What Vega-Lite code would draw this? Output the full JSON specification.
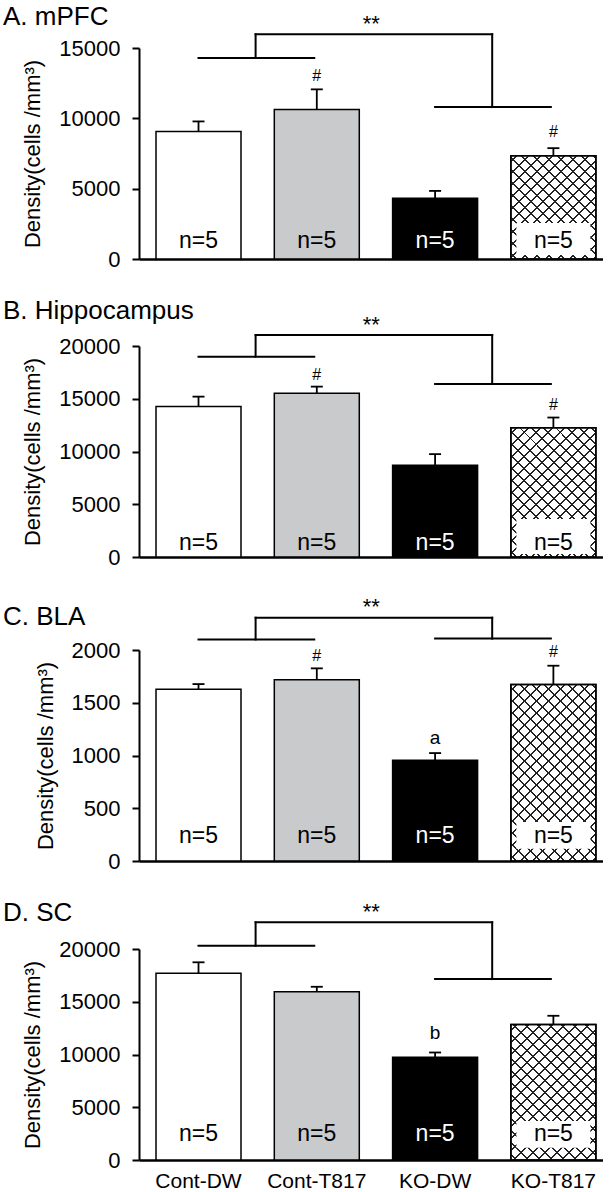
{
 "$schema": "https://vega.github.io/schema/vega-lite/v6.json",
 "background": "white",
 "padding": {"left": 3, "top": 3, "right": 0, "bottom": 0},
 "spacing": 27,
 "resolve": {"scale": {"x": "independent", "y": "independent", "color": "independent"}},
 "config": {
  "font": "Liberation Sans",
  "view": {"stroke": null},
  "axis": {"labelFontSize": 22, "titleFontSize": 22, "titleFontWeight": "normal", "labelColor": "black", "titleColor": "black", "domainColor": "black", "tickColor": "black", "domainWidth": 2, "tickWidth": 2, "tickSize": 7, "labelPadding": 12, "titlePadding": 14, "grid": false},
  "title": {"fontSize": 26, "fontWeight": "normal", "anchor": "start", "color": "black", "frame": "group", "dx": -136},
  "text": {"color": "black"}
 },
 "datasets": {
  "A": [
   {"group": "Cont-DW", "mean": 9070, "upper": 9780, "n": "n=5"},
   {"group": "Cont-T817", "mean": 10630, "upper": 12060, "n": "n=5"},
   {"group": "KO-DW", "mean": 4320, "upper": 4840, "n": "n=5"},
   {"group": "KO-T817", "mean": 7340, "upper": 7880, "n": "n=5"}
  ],
  "B": [
   {"group": "Cont-DW", "mean": 14260, "upper": 15200, "n": "n=5"},
   {"group": "Cont-T817", "mean": 15520, "upper": 16150, "n": "n=5"},
   {"group": "KO-DW", "mean": 8700, "upper": 9750, "n": "n=5"},
   {"group": "KO-T817", "mean": 12240, "upper": 13220, "n": "n=5"}
  ],
  "C": [
   {"group": "Cont-DW", "mean": 1627, "upper": 1677, "n": "n=5"},
   {"group": "Cont-T817", "mean": 1718, "upper": 1826, "n": "n=5"},
   {"group": "KO-DW", "mean": 954, "upper": 1023, "n": "n=5"},
   {"group": "KO-T817", "mean": 1674, "upper": 1851, "n": "n=5"}
  ],
  "D": [
   {"group": "Cont-DW", "mean": 17690, "upper": 18740, "n": "n=5"},
   {"group": "Cont-T817", "mean": 15950, "upper": 16420, "n": "n=5"},
   {"group": "KO-DW", "mean": 9750, "upper": 10190, "n": "n=5"},
   {"group": "KO-T817", "mean": 12850, "upper": 13670, "n": "n=5"}
  ]
 },
 "vconcat": [
  {
   "title": {"text": "A. mPFC", "offset": -17},
   "width": 464, "height": 211,
   "layer": [
    {"data": {"name": "A"},
     "mark": {"type": "bar", "stroke": "black", "strokeWidth": 1.5, "opacity": 1},
     "encoding": {
      "x": {"field": "group", "type": "nominal", "scale": {"domain": ["Cont-DW", "Cont-T817", "KO-DW", "KO-T817"], "paddingInner": 0.2815, "paddingOuter": 0.102, "align": 0.705}, "axis": {"labels": false, "ticks": false, "tickSize": 0, "title": null, "domainWidth": 2.5}},
      "y": {"field": "mean", "type": "quantitative", "scale": {"domain": [0, 15000], "nice": false}, "axis": {"values": [0, 5000, 10000, 15000], "format": "d", "title": "Density(cells /mm³)"}},
      "color": {"field": "group", "type": "nominal", "scale": {"domain": ["Cont-DW", "Cont-T817", "KO-DW", "KO-T817"], "range": ["#ffffff", "#c9cacc", "#000000", "#ffffff"]}, "legend": null}
     }},
    {"data": {"name": "A"}, "transform": [{"filter": "datum.group === 'KO-T817'"}],
     "mark": {"type": "bar", "opacity": 1, "strokeWidth": 0, "fill": {"gradient": "linear", "x1": 0, "y1": 0, "x2": 1.3687, "y2": 1.6626, "stops": [{"offset":0.0176,"color":"rgba(0,0,0,0)"},{"offset":0.0176,"color":"#222"},{"offset":0.024,"color":"#222"},{"offset":0.024,"color":"rgba(0,0,0,0)"},{"offset":0.0593,"color":"rgba(0,0,0,0)"},{"offset":0.0593,"color":"#222"},{"offset":0.0657,"color":"#222"},{"offset":0.0657,"color":"rgba(0,0,0,0)"},{"offset":0.101,"color":"rgba(0,0,0,0)"},{"offset":0.101,"color":"#222"},{"offset":0.1074,"color":"#222"},{"offset":0.1074,"color":"rgba(0,0,0,0)"},{"offset":0.1426,"color":"rgba(0,0,0,0)"},{"offset":0.1426,"color":"#222"},{"offset":0.149,"color":"#222"},{"offset":0.149,"color":"rgba(0,0,0,0)"},{"offset":0.1843,"color":"rgba(0,0,0,0)"},{"offset":0.1843,"color":"#222"},{"offset":0.1907,"color":"#222"},{"offset":0.1907,"color":"rgba(0,0,0,0)"},{"offset":0.226,"color":"rgba(0,0,0,0)"},{"offset":0.226,"color":"#222"},{"offset":0.2324,"color":"#222"},{"offset":0.2324,"color":"rgba(0,0,0,0)"},{"offset":0.2676,"color":"rgba(0,0,0,0)"},{"offset":0.2676,"color":"#222"},{"offset":0.274,"color":"#222"},{"offset":0.274,"color":"rgba(0,0,0,0)"},{"offset":0.3093,"color":"rgba(0,0,0,0)"},{"offset":0.3093,"color":"#222"},{"offset":0.3157,"color":"#222"},{"offset":0.3157,"color":"rgba(0,0,0,0)"},{"offset":0.351,"color":"rgba(0,0,0,0)"},{"offset":0.351,"color":"#222"},{"offset":0.3574,"color":"#222"},{"offset":0.3574,"color":"rgba(0,0,0,0)"},{"offset":0.3926,"color":"rgba(0,0,0,0)"},{"offset":0.3926,"color":"#222"},{"offset":0.399,"color":"#222"},{"offset":0.399,"color":"rgba(0,0,0,0)"},{"offset":0.4343,"color":"rgba(0,0,0,0)"},{"offset":0.4343,"color":"#222"},{"offset":0.4407,"color":"#222"},{"offset":0.4407,"color":"rgba(0,0,0,0)"},{"offset":0.476,"color":"rgba(0,0,0,0)"},{"offset":0.476,"color":"#222"},{"offset":0.4824,"color":"#222"},{"offset":0.4824,"color":"rgba(0,0,0,0)"},{"offset":0.5176,"color":"rgba(0,0,0,0)"},{"offset":0.5176,"color":"#222"},{"offset":0.524,"color":"#222"},{"offset":0.524,"color":"rgba(0,0,0,0)"},{"offset":0.5593,"color":"rgba(0,0,0,0)"},{"offset":0.5593,"color":"#222"},{"offset":0.5657,"color":"#222"},{"offset":0.5657,"color":"rgba(0,0,0,0)"},{"offset":0.601,"color":"rgba(0,0,0,0)"},{"offset":0.601,"color":"#222"},{"offset":0.6074,"color":"#222"},{"offset":0.6074,"color":"rgba(0,0,0,0)"},{"offset":0.6426,"color":"rgba(0,0,0,0)"},{"offset":0.6426,"color":"#222"},{"offset":0.649,"color":"#222"},{"offset":0.649,"color":"rgba(0,0,0,0)"},{"offset":0.6843,"color":"rgba(0,0,0,0)"},{"offset":0.6843,"color":"#222"},{"offset":0.6907,"color":"#222"},{"offset":0.6907,"color":"rgba(0,0,0,0)"},{"offset":0.726,"color":"rgba(0,0,0,0)"},{"offset":0.726,"color":"#222"},{"offset":0.7324,"color":"#222"},{"offset":0.7324,"color":"rgba(0,0,0,0)"},{"offset":0.7676,"color":"rgba(0,0,0,0)"},{"offset":0.7676,"color":"#222"},{"offset":0.774,"color":"#222"},{"offset":0.774,"color":"rgba(0,0,0,0)"},{"offset":0.8093,"color":"rgba(0,0,0,0)"},{"offset":0.8093,"color":"#222"},{"offset":0.8157,"color":"#222"},{"offset":0.8157,"color":"rgba(0,0,0,0)"},{"offset":0.851,"color":"rgba(0,0,0,0)"},{"offset":0.851,"color":"#222"},{"offset":0.8574,"color":"#222"},{"offset":0.8574,"color":"rgba(0,0,0,0)"},{"offset":0.8926,"color":"rgba(0,0,0,0)"},{"offset":0.8926,"color":"#222"},{"offset":0.899,"color":"#222"},{"offset":0.899,"color":"rgba(0,0,0,0)"},{"offset":0.9343,"color":"rgba(0,0,0,0)"},{"offset":0.9343,"color":"#222"},{"offset":0.9407,"color":"#222"},{"offset":0.9407,"color":"rgba(0,0,0,0)"},{"offset":0.976,"color":"rgba(0,0,0,0)"},{"offset":0.976,"color":"#222"},{"offset":0.9824,"color":"#222"},{"offset":0.9824,"color":"rgba(0,0,0,0)"}]}},
     "encoding": {"x": {"field": "group", "type": "nominal"}, "y": {"field": "mean", "type": "quantitative"}}},
    {"data": {"name": "A"}, "transform": [{"filter": "datum.group === 'KO-T817'"}],
     "mark": {"type": "bar", "opacity": 1, "stroke": "black", "strokeWidth": 1.5, "fill": {"gradient": "linear", "x1": 0, "y1": 1, "x2": 1.3687, "y2": -0.6626, "stops": [{"offset":0.0176,"color":"rgba(0,0,0,0)"},{"offset":0.0176,"color":"#222"},{"offset":0.024,"color":"#222"},{"offset":0.024,"color":"rgba(0,0,0,0)"},{"offset":0.0593,"color":"rgba(0,0,0,0)"},{"offset":0.0593,"color":"#222"},{"offset":0.0657,"color":"#222"},{"offset":0.0657,"color":"rgba(0,0,0,0)"},{"offset":0.101,"color":"rgba(0,0,0,0)"},{"offset":0.101,"color":"#222"},{"offset":0.1074,"color":"#222"},{"offset":0.1074,"color":"rgba(0,0,0,0)"},{"offset":0.1426,"color":"rgba(0,0,0,0)"},{"offset":0.1426,"color":"#222"},{"offset":0.149,"color":"#222"},{"offset":0.149,"color":"rgba(0,0,0,0)"},{"offset":0.1843,"color":"rgba(0,0,0,0)"},{"offset":0.1843,"color":"#222"},{"offset":0.1907,"color":"#222"},{"offset":0.1907,"color":"rgba(0,0,0,0)"},{"offset":0.226,"color":"rgba(0,0,0,0)"},{"offset":0.226,"color":"#222"},{"offset":0.2324,"color":"#222"},{"offset":0.2324,"color":"rgba(0,0,0,0)"},{"offset":0.2676,"color":"rgba(0,0,0,0)"},{"offset":0.2676,"color":"#222"},{"offset":0.274,"color":"#222"},{"offset":0.274,"color":"rgba(0,0,0,0)"},{"offset":0.3093,"color":"rgba(0,0,0,0)"},{"offset":0.3093,"color":"#222"},{"offset":0.3157,"color":"#222"},{"offset":0.3157,"color":"rgba(0,0,0,0)"},{"offset":0.351,"color":"rgba(0,0,0,0)"},{"offset":0.351,"color":"#222"},{"offset":0.3574,"color":"#222"},{"offset":0.3574,"color":"rgba(0,0,0,0)"},{"offset":0.3926,"color":"rgba(0,0,0,0)"},{"offset":0.3926,"color":"#222"},{"offset":0.399,"color":"#222"},{"offset":0.399,"color":"rgba(0,0,0,0)"},{"offset":0.4343,"color":"rgba(0,0,0,0)"},{"offset":0.4343,"color":"#222"},{"offset":0.4407,"color":"#222"},{"offset":0.4407,"color":"rgba(0,0,0,0)"},{"offset":0.476,"color":"rgba(0,0,0,0)"},{"offset":0.476,"color":"#222"},{"offset":0.4824,"color":"#222"},{"offset":0.4824,"color":"rgba(0,0,0,0)"},{"offset":0.5176,"color":"rgba(0,0,0,0)"},{"offset":0.5176,"color":"#222"},{"offset":0.524,"color":"#222"},{"offset":0.524,"color":"rgba(0,0,0,0)"},{"offset":0.5593,"color":"rgba(0,0,0,0)"},{"offset":0.5593,"color":"#222"},{"offset":0.5657,"color":"#222"},{"offset":0.5657,"color":"rgba(0,0,0,0)"},{"offset":0.601,"color":"rgba(0,0,0,0)"},{"offset":0.601,"color":"#222"},{"offset":0.6074,"color":"#222"},{"offset":0.6074,"color":"rgba(0,0,0,0)"},{"offset":0.6426,"color":"rgba(0,0,0,0)"},{"offset":0.6426,"color":"#222"},{"offset":0.649,"color":"#222"},{"offset":0.649,"color":"rgba(0,0,0,0)"},{"offset":0.6843,"color":"rgba(0,0,0,0)"},{"offset":0.6843,"color":"#222"},{"offset":0.6907,"color":"#222"},{"offset":0.6907,"color":"rgba(0,0,0,0)"},{"offset":0.726,"color":"rgba(0,0,0,0)"},{"offset":0.726,"color":"#222"},{"offset":0.7324,"color":"#222"},{"offset":0.7324,"color":"rgba(0,0,0,0)"},{"offset":0.7676,"color":"rgba(0,0,0,0)"},{"offset":0.7676,"color":"#222"},{"offset":0.774,"color":"#222"},{"offset":0.774,"color":"rgba(0,0,0,0)"},{"offset":0.8093,"color":"rgba(0,0,0,0)"},{"offset":0.8093,"color":"#222"},{"offset":0.8157,"color":"#222"},{"offset":0.8157,"color":"rgba(0,0,0,0)"},{"offset":0.851,"color":"rgba(0,0,0,0)"},{"offset":0.851,"color":"#222"},{"offset":0.8574,"color":"#222"},{"offset":0.8574,"color":"rgba(0,0,0,0)"},{"offset":0.8926,"color":"rgba(0,0,0,0)"},{"offset":0.8926,"color":"#222"},{"offset":0.899,"color":"#222"},{"offset":0.899,"color":"rgba(0,0,0,0)"},{"offset":0.9343,"color":"rgba(0,0,0,0)"},{"offset":0.9343,"color":"#222"},{"offset":0.9407,"color":"#222"},{"offset":0.9407,"color":"rgba(0,0,0,0)"},{"offset":0.976,"color":"rgba(0,0,0,0)"},{"offset":0.976,"color":"#222"},{"offset":0.9824,"color":"#222"},{"offset":0.9824,"color":"rgba(0,0,0,0)"}]}},
     "encoding": {"x": {"field": "group", "type": "nominal"}, "y": {"field": "mean", "type": "quantitative"}}},
    {"data": {"name": "A"}, "transform": [{"filter": "datum.group === 'KO-T817'"}],
     "mark": {"type": "point", "shape": "M-1,-0.973L1,-0.973L1,-0.108L-1,-0.108Z", "size": 5476, "filled": true, "color": "white", "opacity": 1, "strokeWidth": 0},
     "encoding": {"x": {"field": "group", "type": "nominal"}, "y": {"datum": 0, "type": "quantitative"}}},
    {"data": {"name": "A"},
     "mark": {"type": "rule", "color": "black", "strokeWidth": 1.8},
     "encoding": {"x": {"field": "group", "type": "nominal"}, "y": {"field": "mean", "type": "quantitative"}, "y2": {"field": "upper"}}},
    {"data": {"name": "A"},
     "mark": {"type": "tick", "color": "black", "thickness": 1.8, "size": 12, "orient": "horizontal", "opacity": 1},
     "encoding": {"x": {"field": "group", "type": "nominal"}, "y": {"field": "upper", "type": "quantitative"}}},
    {"data": {"name": "A"},
     "mark": {"type": "text", "fontSize": 23, "baseline": "alphabetic", "dy": -11},
     "encoding": {"x": {"field": "group", "type": "nominal"}, "y": {"datum": 0, "type": "quantitative"}, "text": {"field": "n"}, "color": {"condition": {"test": "datum.group === 'KO-DW'", "value": "white"}, "value": "black"}}},
    {"data": {"values": [{"group": "Cont-T817", "label": "#", "y": 12980}, {"group": "KO-T817", "label": "#", "y": 9020}]},
     "mark": {"type": "text", "fontSize": 16, "baseline": "middle", "color": "black"},
     "encoding": {"x": {"field": "group", "type": "nominal"}, "y": {"field": "y", "type": "quantitative"}, "text": {"field": "label"}}},
    {"data": {"values": [{"group": "KO-DW", "label": "**", "y": 16740}]},
     "mark": {"type": "text", "fontSize": 22, "baseline": "middle", "color": "black"},
     "encoding": {"x": {"field": "group", "type": "nominal", "bandPosition": -0.25}, "y": {"field": "y", "type": "quantitative"}, "text": {"field": "label"}}},
    {"data": {"values": [{"g1": "Cont-DW", "g2": "Cont-T817", "y": 14290}, {"g1": "KO-DW", "g2": "KO-T817", "y": 10800}]},
     "mark": {"type": "rule", "color": "black", "strokeWidth": 2, "strokeCap": "square"},
     "encoding": {"x": {"field": "g1", "type": "nominal", "bandPosition": 0.5}, "x2": {"field": "g2", "bandPosition": 0.47}, "y": {"field": "y", "type": "quantitative"}}},
    {"data": {"values": [{"g1": "Cont-T817", "g2": "KO-T817", "y": 15980}]},
     "mark": {"type": "rule", "color": "black", "strokeWidth": 2, "strokeCap": "square"},
     "encoding": {"x": {"field": "g1", "type": "nominal", "bandPosition": -0.22}, "x2": {"field": "g2", "bandPosition": -0.22}, "y": {"field": "y", "type": "quantitative"}}},
    {"data": {"values": [{"g": "Cont-T817", "y": 14290, "y2": 15980}, {"g": "KO-T817", "y": 10800, "y2": 15980}]},
     "mark": {"type": "rule", "color": "black", "strokeWidth": 2, "strokeCap": "square"},
     "encoding": {"x": {"field": "g", "type": "nominal", "bandPosition": -0.22}, "y": {"field": "y", "type": "quantitative"}, "y2": {"field": "y2"}}}
   ]
  },
  {
   "title": {"text": "B. Hippocampus", "offset": -10},
   "width": 464, "height": 211,
   "layer": [
    {"data": {"name": "B"},
     "mark": {"type": "bar", "stroke": "black", "strokeWidth": 1.5, "opacity": 1},
     "encoding": {
      "x": {"field": "group", "type": "nominal", "scale": {"domain": ["Cont-DW", "Cont-T817", "KO-DW", "KO-T817"], "paddingInner": 0.2815, "paddingOuter": 0.102, "align": 0.705}, "axis": {"labels": false, "ticks": false, "tickSize": 0, "title": null, "domainWidth": 2.5}},
      "y": {"field": "mean", "type": "quantitative", "scale": {"domain": [0, 20000], "nice": false}, "axis": {"values": [0, 5000, 10000, 15000, 20000], "format": "d", "title": "Density(cells /mm³)"}},
      "color": {"field": "group", "type": "nominal", "scale": {"domain": ["Cont-DW", "Cont-T817", "KO-DW", "KO-T817"], "range": ["#ffffff", "#c9cacc", "#000000", "#ffffff"]}, "legend": null}
     }},
    {"data": {"name": "B"}, "transform": [{"filter": "datum.group === 'KO-T817'"}],
     "mark": {"type": "bar", "opacity": 1, "strokeWidth": 0, "fill": {"gradient": "linear", "x1": 0, "y1": 0, "x2": 1.0246, "y2": 1.5562, "stops": [{"offset":0.0176,"color":"rgba(0,0,0,0)"},{"offset":0.0176,"color":"#222"},{"offset":0.024,"color":"#222"},{"offset":0.024,"color":"rgba(0,0,0,0)"},{"offset":0.0593,"color":"rgba(0,0,0,0)"},{"offset":0.0593,"color":"#222"},{"offset":0.0657,"color":"#222"},{"offset":0.0657,"color":"rgba(0,0,0,0)"},{"offset":0.101,"color":"rgba(0,0,0,0)"},{"offset":0.101,"color":"#222"},{"offset":0.1074,"color":"#222"},{"offset":0.1074,"color":"rgba(0,0,0,0)"},{"offset":0.1426,"color":"rgba(0,0,0,0)"},{"offset":0.1426,"color":"#222"},{"offset":0.149,"color":"#222"},{"offset":0.149,"color":"rgba(0,0,0,0)"},{"offset":0.1843,"color":"rgba(0,0,0,0)"},{"offset":0.1843,"color":"#222"},{"offset":0.1907,"color":"#222"},{"offset":0.1907,"color":"rgba(0,0,0,0)"},{"offset":0.226,"color":"rgba(0,0,0,0)"},{"offset":0.226,"color":"#222"},{"offset":0.2324,"color":"#222"},{"offset":0.2324,"color":"rgba(0,0,0,0)"},{"offset":0.2676,"color":"rgba(0,0,0,0)"},{"offset":0.2676,"color":"#222"},{"offset":0.274,"color":"#222"},{"offset":0.274,"color":"rgba(0,0,0,0)"},{"offset":0.3093,"color":"rgba(0,0,0,0)"},{"offset":0.3093,"color":"#222"},{"offset":0.3157,"color":"#222"},{"offset":0.3157,"color":"rgba(0,0,0,0)"},{"offset":0.351,"color":"rgba(0,0,0,0)"},{"offset":0.351,"color":"#222"},{"offset":0.3574,"color":"#222"},{"offset":0.3574,"color":"rgba(0,0,0,0)"},{"offset":0.3926,"color":"rgba(0,0,0,0)"},{"offset":0.3926,"color":"#222"},{"offset":0.399,"color":"#222"},{"offset":0.399,"color":"rgba(0,0,0,0)"},{"offset":0.4343,"color":"rgba(0,0,0,0)"},{"offset":0.4343,"color":"#222"},{"offset":0.4407,"color":"#222"},{"offset":0.4407,"color":"rgba(0,0,0,0)"},{"offset":0.476,"color":"rgba(0,0,0,0)"},{"offset":0.476,"color":"#222"},{"offset":0.4824,"color":"#222"},{"offset":0.4824,"color":"rgba(0,0,0,0)"},{"offset":0.5176,"color":"rgba(0,0,0,0)"},{"offset":0.5176,"color":"#222"},{"offset":0.524,"color":"#222"},{"offset":0.524,"color":"rgba(0,0,0,0)"},{"offset":0.5593,"color":"rgba(0,0,0,0)"},{"offset":0.5593,"color":"#222"},{"offset":0.5657,"color":"#222"},{"offset":0.5657,"color":"rgba(0,0,0,0)"},{"offset":0.601,"color":"rgba(0,0,0,0)"},{"offset":0.601,"color":"#222"},{"offset":0.6074,"color":"#222"},{"offset":0.6074,"color":"rgba(0,0,0,0)"},{"offset":0.6426,"color":"rgba(0,0,0,0)"},{"offset":0.6426,"color":"#222"},{"offset":0.649,"color":"#222"},{"offset":0.649,"color":"rgba(0,0,0,0)"},{"offset":0.6843,"color":"rgba(0,0,0,0)"},{"offset":0.6843,"color":"#222"},{"offset":0.6907,"color":"#222"},{"offset":0.6907,"color":"rgba(0,0,0,0)"},{"offset":0.726,"color":"rgba(0,0,0,0)"},{"offset":0.726,"color":"#222"},{"offset":0.7324,"color":"#222"},{"offset":0.7324,"color":"rgba(0,0,0,0)"},{"offset":0.7676,"color":"rgba(0,0,0,0)"},{"offset":0.7676,"color":"#222"},{"offset":0.774,"color":"#222"},{"offset":0.774,"color":"rgba(0,0,0,0)"},{"offset":0.8093,"color":"rgba(0,0,0,0)"},{"offset":0.8093,"color":"#222"},{"offset":0.8157,"color":"#222"},{"offset":0.8157,"color":"rgba(0,0,0,0)"},{"offset":0.851,"color":"rgba(0,0,0,0)"},{"offset":0.851,"color":"#222"},{"offset":0.8574,"color":"#222"},{"offset":0.8574,"color":"rgba(0,0,0,0)"},{"offset":0.8926,"color":"rgba(0,0,0,0)"},{"offset":0.8926,"color":"#222"},{"offset":0.899,"color":"#222"},{"offset":0.899,"color":"rgba(0,0,0,0)"},{"offset":0.9343,"color":"rgba(0,0,0,0)"},{"offset":0.9343,"color":"#222"},{"offset":0.9407,"color":"#222"},{"offset":0.9407,"color":"rgba(0,0,0,0)"},{"offset":0.976,"color":"rgba(0,0,0,0)"},{"offset":0.976,"color":"#222"},{"offset":0.9824,"color":"#222"},{"offset":0.9824,"color":"rgba(0,0,0,0)"}]}},
     "encoding": {"x": {"field": "group", "type": "nominal"}, "y": {"field": "mean", "type": "quantitative"}}},
    {"data": {"name": "B"}, "transform": [{"filter": "datum.group === 'KO-T817'"}],
     "mark": {"type": "bar", "opacity": 1, "stroke": "black", "strokeWidth": 1.5, "fill": {"gradient": "linear", "x1": 0, "y1": 1, "x2": 1.0246, "y2": -0.5562, "stops": [{"offset":0.0176,"color":"rgba(0,0,0,0)"},{"offset":0.0176,"color":"#222"},{"offset":0.024,"color":"#222"},{"offset":0.024,"color":"rgba(0,0,0,0)"},{"offset":0.0593,"color":"rgba(0,0,0,0)"},{"offset":0.0593,"color":"#222"},{"offset":0.0657,"color":"#222"},{"offset":0.0657,"color":"rgba(0,0,0,0)"},{"offset":0.101,"color":"rgba(0,0,0,0)"},{"offset":0.101,"color":"#222"},{"offset":0.1074,"color":"#222"},{"offset":0.1074,"color":"rgba(0,0,0,0)"},{"offset":0.1426,"color":"rgba(0,0,0,0)"},{"offset":0.1426,"color":"#222"},{"offset":0.149,"color":"#222"},{"offset":0.149,"color":"rgba(0,0,0,0)"},{"offset":0.1843,"color":"rgba(0,0,0,0)"},{"offset":0.1843,"color":"#222"},{"offset":0.1907,"color":"#222"},{"offset":0.1907,"color":"rgba(0,0,0,0)"},{"offset":0.226,"color":"rgba(0,0,0,0)"},{"offset":0.226,"color":"#222"},{"offset":0.2324,"color":"#222"},{"offset":0.2324,"color":"rgba(0,0,0,0)"},{"offset":0.2676,"color":"rgba(0,0,0,0)"},{"offset":0.2676,"color":"#222"},{"offset":0.274,"color":"#222"},{"offset":0.274,"color":"rgba(0,0,0,0)"},{"offset":0.3093,"color":"rgba(0,0,0,0)"},{"offset":0.3093,"color":"#222"},{"offset":0.3157,"color":"#222"},{"offset":0.3157,"color":"rgba(0,0,0,0)"},{"offset":0.351,"color":"rgba(0,0,0,0)"},{"offset":0.351,"color":"#222"},{"offset":0.3574,"color":"#222"},{"offset":0.3574,"color":"rgba(0,0,0,0)"},{"offset":0.3926,"color":"rgba(0,0,0,0)"},{"offset":0.3926,"color":"#222"},{"offset":0.399,"color":"#222"},{"offset":0.399,"color":"rgba(0,0,0,0)"},{"offset":0.4343,"color":"rgba(0,0,0,0)"},{"offset":0.4343,"color":"#222"},{"offset":0.4407,"color":"#222"},{"offset":0.4407,"color":"rgba(0,0,0,0)"},{"offset":0.476,"color":"rgba(0,0,0,0)"},{"offset":0.476,"color":"#222"},{"offset":0.4824,"color":"#222"},{"offset":0.4824,"color":"rgba(0,0,0,0)"},{"offset":0.5176,"color":"rgba(0,0,0,0)"},{"offset":0.5176,"color":"#222"},{"offset":0.524,"color":"#222"},{"offset":0.524,"color":"rgba(0,0,0,0)"},{"offset":0.5593,"color":"rgba(0,0,0,0)"},{"offset":0.5593,"color":"#222"},{"offset":0.5657,"color":"#222"},{"offset":0.5657,"color":"rgba(0,0,0,0)"},{"offset":0.601,"color":"rgba(0,0,0,0)"},{"offset":0.601,"color":"#222"},{"offset":0.6074,"color":"#222"},{"offset":0.6074,"color":"rgba(0,0,0,0)"},{"offset":0.6426,"color":"rgba(0,0,0,0)"},{"offset":0.6426,"color":"#222"},{"offset":0.649,"color":"#222"},{"offset":0.649,"color":"rgba(0,0,0,0)"},{"offset":0.6843,"color":"rgba(0,0,0,0)"},{"offset":0.6843,"color":"#222"},{"offset":0.6907,"color":"#222"},{"offset":0.6907,"color":"rgba(0,0,0,0)"},{"offset":0.726,"color":"rgba(0,0,0,0)"},{"offset":0.726,"color":"#222"},{"offset":0.7324,"color":"#222"},{"offset":0.7324,"color":"rgba(0,0,0,0)"},{"offset":0.7676,"color":"rgba(0,0,0,0)"},{"offset":0.7676,"color":"#222"},{"offset":0.774,"color":"#222"},{"offset":0.774,"color":"rgba(0,0,0,0)"},{"offset":0.8093,"color":"rgba(0,0,0,0)"},{"offset":0.8093,"color":"#222"},{"offset":0.8157,"color":"#222"},{"offset":0.8157,"color":"rgba(0,0,0,0)"},{"offset":0.851,"color":"rgba(0,0,0,0)"},{"offset":0.851,"color":"#222"},{"offset":0.8574,"color":"#222"},{"offset":0.8574,"color":"rgba(0,0,0,0)"},{"offset":0.8926,"color":"rgba(0,0,0,0)"},{"offset":0.8926,"color":"#222"},{"offset":0.899,"color":"#222"},{"offset":0.899,"color":"rgba(0,0,0,0)"},{"offset":0.9343,"color":"rgba(0,0,0,0)"},{"offset":0.9343,"color":"#222"},{"offset":0.9407,"color":"#222"},{"offset":0.9407,"color":"rgba(0,0,0,0)"},{"offset":0.976,"color":"rgba(0,0,0,0)"},{"offset":0.976,"color":"#222"},{"offset":0.9824,"color":"#222"},{"offset":0.9824,"color":"rgba(0,0,0,0)"}]}},
     "encoding": {"x": {"field": "group", "type": "nominal"}, "y": {"field": "mean", "type": "quantitative"}}},
    {"data": {"name": "B"}, "transform": [{"filter": "datum.group === 'KO-T817'"}],
     "mark": {"type": "point", "shape": "M-1,-1.027L1,-1.027L1,-0.081L-1,-0.081Z", "size": 5476, "filled": true, "color": "white", "opacity": 1, "strokeWidth": 0},
     "encoding": {"x": {"field": "group", "type": "nominal"}, "y": {"datum": 0, "type": "quantitative"}}},
    {"data": {"name": "B"},
     "mark": {"type": "rule", "color": "black", "strokeWidth": 1.8},
     "encoding": {"x": {"field": "group", "type": "nominal"}, "y": {"field": "mean", "type": "quantitative"}, "y2": {"field": "upper"}}},
    {"data": {"name": "B"},
     "mark": {"type": "tick", "color": "black", "thickness": 1.8, "size": 12, "orient": "horizontal", "opacity": 1},
     "encoding": {"x": {"field": "group", "type": "nominal"}, "y": {"field": "upper", "type": "quantitative"}}},
    {"data": {"name": "B"},
     "mark": {"type": "text", "fontSize": 23, "baseline": "alphabetic", "dy": -7},
     "encoding": {"x": {"field": "group", "type": "nominal"}, "y": {"datum": 0, "type": "quantitative"}, "text": {"field": "n"}, "color": {"condition": {"test": "datum.group === 'KO-DW'", "value": "white"}, "value": "black"}}},
    {"data": {"values": [{"group": "Cont-T817", "label": "#", "y": 17260}, {"group": "KO-T817", "label": "#", "y": 14420}]},
     "mark": {"type": "text", "fontSize": 16, "baseline": "middle", "color": "black"},
     "encoding": {"x": {"field": "group", "type": "nominal"}, "y": {"field": "y", "type": "quantitative"}, "text": {"field": "label"}}},
    {"data": {"values": [{"group": "KO-DW", "label": "**", "y": 22000}]},
     "mark": {"type": "text", "fontSize": 22, "baseline": "middle", "color": "black"},
     "encoding": {"x": {"field": "group", "type": "nominal", "bandPosition": -0.25}, "y": {"field": "y", "type": "quantitative"}, "text": {"field": "label"}}},
    {"data": {"values": [{"g1": "Cont-DW", "g2": "Cont-T817", "y": 18990}, {"g1": "KO-DW", "g2": "KO-T817", "y": 16400}]},
     "mark": {"type": "rule", "color": "black", "strokeWidth": 2, "strokeCap": "square"},
     "encoding": {"x": {"field": "g1", "type": "nominal", "bandPosition": 0.5}, "x2": {"field": "g2", "bandPosition": 0.47}, "y": {"field": "y", "type": "quantitative"}}},
    {"data": {"values": [{"g1": "Cont-T817", "g2": "KO-T817", "y": 21040}]},
     "mark": {"type": "rule", "color": "black", "strokeWidth": 2, "strokeCap": "square"},
     "encoding": {"x": {"field": "g1", "type": "nominal", "bandPosition": -0.22}, "x2": {"field": "g2", "bandPosition": -0.22}, "y": {"field": "y", "type": "quantitative"}}},
    {"data": {"values": [{"g": "Cont-T817", "y": 18990, "y2": 21040}, {"g": "KO-T817", "y": 16400, "y2": 21040}]},
     "mark": {"type": "rule", "color": "black", "strokeWidth": 2, "strokeCap": "square"},
     "encoding": {"x": {"field": "g", "type": "nominal", "bandPosition": -0.22}, "y": {"field": "y", "type": "quantitative"}, "y2": {"field": "y2"}}}
   ]
  },
  {
   "title": {"text": "C. BLA", "offset": -34},
   "width": 464, "height": 211,
   "layer": [
    {"data": {"name": "C"},
     "mark": {"type": "bar", "stroke": "black", "strokeWidth": 1.5, "opacity": 1},
     "encoding": {
      "x": {"field": "group", "type": "nominal", "scale": {"domain": ["Cont-DW", "Cont-T817", "KO-DW", "KO-T817"], "paddingInner": 0.2815, "paddingOuter": 0.102, "align": 0.705}, "axis": {"labels": false, "ticks": false, "tickSize": 0, "title": null, "domainWidth": 2.5}},
      "y": {"field": "mean", "type": "quantitative", "scale": {"domain": [0, 2000], "nice": false}, "axis": {"values": [0, 500, 1000, 1500, 2000], "format": "d", "title": "Density(cells /mm³)"}},
      "color": {"field": "group", "type": "nominal", "scale": {"domain": ["Cont-DW", "Cont-T817", "KO-DW", "KO-T817"], "range": ["#ffffff", "#c9cacc", "#000000", "#ffffff"]}, "legend": null}
     }},
    {"data": {"name": "C"}, "transform": [{"filter": "datum.group === 'KO-T817'"}],
     "mark": {"type": "bar", "opacity": 1, "strokeWidth": 0, "fill": {"gradient": "linear", "x1": 0, "y1": 0, "x2": 0.6373, "y2": 1.3241, "stops": [{"offset":0.0176,"color":"rgba(0,0,0,0)"},{"offset":0.0176,"color":"#222"},{"offset":0.024,"color":"#222"},{"offset":0.024,"color":"rgba(0,0,0,0)"},{"offset":0.0593,"color":"rgba(0,0,0,0)"},{"offset":0.0593,"color":"#222"},{"offset":0.0657,"color":"#222"},{"offset":0.0657,"color":"rgba(0,0,0,0)"},{"offset":0.101,"color":"rgba(0,0,0,0)"},{"offset":0.101,"color":"#222"},{"offset":0.1074,"color":"#222"},{"offset":0.1074,"color":"rgba(0,0,0,0)"},{"offset":0.1426,"color":"rgba(0,0,0,0)"},{"offset":0.1426,"color":"#222"},{"offset":0.149,"color":"#222"},{"offset":0.149,"color":"rgba(0,0,0,0)"},{"offset":0.1843,"color":"rgba(0,0,0,0)"},{"offset":0.1843,"color":"#222"},{"offset":0.1907,"color":"#222"},{"offset":0.1907,"color":"rgba(0,0,0,0)"},{"offset":0.226,"color":"rgba(0,0,0,0)"},{"offset":0.226,"color":"#222"},{"offset":0.2324,"color":"#222"},{"offset":0.2324,"color":"rgba(0,0,0,0)"},{"offset":0.2676,"color":"rgba(0,0,0,0)"},{"offset":0.2676,"color":"#222"},{"offset":0.274,"color":"#222"},{"offset":0.274,"color":"rgba(0,0,0,0)"},{"offset":0.3093,"color":"rgba(0,0,0,0)"},{"offset":0.3093,"color":"#222"},{"offset":0.3157,"color":"#222"},{"offset":0.3157,"color":"rgba(0,0,0,0)"},{"offset":0.351,"color":"rgba(0,0,0,0)"},{"offset":0.351,"color":"#222"},{"offset":0.3574,"color":"#222"},{"offset":0.3574,"color":"rgba(0,0,0,0)"},{"offset":0.3926,"color":"rgba(0,0,0,0)"},{"offset":0.3926,"color":"#222"},{"offset":0.399,"color":"#222"},{"offset":0.399,"color":"rgba(0,0,0,0)"},{"offset":0.4343,"color":"rgba(0,0,0,0)"},{"offset":0.4343,"color":"#222"},{"offset":0.4407,"color":"#222"},{"offset":0.4407,"color":"rgba(0,0,0,0)"},{"offset":0.476,"color":"rgba(0,0,0,0)"},{"offset":0.476,"color":"#222"},{"offset":0.4824,"color":"#222"},{"offset":0.4824,"color":"rgba(0,0,0,0)"},{"offset":0.5176,"color":"rgba(0,0,0,0)"},{"offset":0.5176,"color":"#222"},{"offset":0.524,"color":"#222"},{"offset":0.524,"color":"rgba(0,0,0,0)"},{"offset":0.5593,"color":"rgba(0,0,0,0)"},{"offset":0.5593,"color":"#222"},{"offset":0.5657,"color":"#222"},{"offset":0.5657,"color":"rgba(0,0,0,0)"},{"offset":0.601,"color":"rgba(0,0,0,0)"},{"offset":0.601,"color":"#222"},{"offset":0.6074,"color":"#222"},{"offset":0.6074,"color":"rgba(0,0,0,0)"},{"offset":0.6426,"color":"rgba(0,0,0,0)"},{"offset":0.6426,"color":"#222"},{"offset":0.649,"color":"#222"},{"offset":0.649,"color":"rgba(0,0,0,0)"},{"offset":0.6843,"color":"rgba(0,0,0,0)"},{"offset":0.6843,"color":"#222"},{"offset":0.6907,"color":"#222"},{"offset":0.6907,"color":"rgba(0,0,0,0)"},{"offset":0.726,"color":"rgba(0,0,0,0)"},{"offset":0.726,"color":"#222"},{"offset":0.7324,"color":"#222"},{"offset":0.7324,"color":"rgba(0,0,0,0)"},{"offset":0.7676,"color":"rgba(0,0,0,0)"},{"offset":0.7676,"color":"#222"},{"offset":0.774,"color":"#222"},{"offset":0.774,"color":"rgba(0,0,0,0)"},{"offset":0.8093,"color":"rgba(0,0,0,0)"},{"offset":0.8093,"color":"#222"},{"offset":0.8157,"color":"#222"},{"offset":0.8157,"color":"rgba(0,0,0,0)"},{"offset":0.851,"color":"rgba(0,0,0,0)"},{"offset":0.851,"color":"#222"},{"offset":0.8574,"color":"#222"},{"offset":0.8574,"color":"rgba(0,0,0,0)"},{"offset":0.8926,"color":"rgba(0,0,0,0)"},{"offset":0.8926,"color":"#222"},{"offset":0.899,"color":"#222"},{"offset":0.899,"color":"rgba(0,0,0,0)"},{"offset":0.9343,"color":"rgba(0,0,0,0)"},{"offset":0.9343,"color":"#222"},{"offset":0.9407,"color":"#222"},{"offset":0.9407,"color":"rgba(0,0,0,0)"},{"offset":0.976,"color":"rgba(0,0,0,0)"},{"offset":0.976,"color":"#222"},{"offset":0.9824,"color":"#222"},{"offset":0.9824,"color":"rgba(0,0,0,0)"}]}},
     "encoding": {"x": {"field": "group", "type": "nominal"}, "y": {"field": "mean", "type": "quantitative"}}},
    {"data": {"name": "C"}, "transform": [{"filter": "datum.group === 'KO-T817'"}],
     "mark": {"type": "bar", "opacity": 1, "stroke": "black", "strokeWidth": 1.5, "fill": {"gradient": "linear", "x1": 0, "y1": 1, "x2": 0.6373, "y2": -0.3241, "stops": [{"offset":0.0176,"color":"rgba(0,0,0,0)"},{"offset":0.0176,"color":"#222"},{"offset":0.024,"color":"#222"},{"offset":0.024,"color":"rgba(0,0,0,0)"},{"offset":0.0593,"color":"rgba(0,0,0,0)"},{"offset":0.0593,"color":"#222"},{"offset":0.0657,"color":"#222"},{"offset":0.0657,"color":"rgba(0,0,0,0)"},{"offset":0.101,"color":"rgba(0,0,0,0)"},{"offset":0.101,"color":"#222"},{"offset":0.1074,"color":"#222"},{"offset":0.1074,"color":"rgba(0,0,0,0)"},{"offset":0.1426,"color":"rgba(0,0,0,0)"},{"offset":0.1426,"color":"#222"},{"offset":0.149,"color":"#222"},{"offset":0.149,"color":"rgba(0,0,0,0)"},{"offset":0.1843,"color":"rgba(0,0,0,0)"},{"offset":0.1843,"color":"#222"},{"offset":0.1907,"color":"#222"},{"offset":0.1907,"color":"rgba(0,0,0,0)"},{"offset":0.226,"color":"rgba(0,0,0,0)"},{"offset":0.226,"color":"#222"},{"offset":0.2324,"color":"#222"},{"offset":0.2324,"color":"rgba(0,0,0,0)"},{"offset":0.2676,"color":"rgba(0,0,0,0)"},{"offset":0.2676,"color":"#222"},{"offset":0.274,"color":"#222"},{"offset":0.274,"color":"rgba(0,0,0,0)"},{"offset":0.3093,"color":"rgba(0,0,0,0)"},{"offset":0.3093,"color":"#222"},{"offset":0.3157,"color":"#222"},{"offset":0.3157,"color":"rgba(0,0,0,0)"},{"offset":0.351,"color":"rgba(0,0,0,0)"},{"offset":0.351,"color":"#222"},{"offset":0.3574,"color":"#222"},{"offset":0.3574,"color":"rgba(0,0,0,0)"},{"offset":0.3926,"color":"rgba(0,0,0,0)"},{"offset":0.3926,"color":"#222"},{"offset":0.399,"color":"#222"},{"offset":0.399,"color":"rgba(0,0,0,0)"},{"offset":0.4343,"color":"rgba(0,0,0,0)"},{"offset":0.4343,"color":"#222"},{"offset":0.4407,"color":"#222"},{"offset":0.4407,"color":"rgba(0,0,0,0)"},{"offset":0.476,"color":"rgba(0,0,0,0)"},{"offset":0.476,"color":"#222"},{"offset":0.4824,"color":"#222"},{"offset":0.4824,"color":"rgba(0,0,0,0)"},{"offset":0.5176,"color":"rgba(0,0,0,0)"},{"offset":0.5176,"color":"#222"},{"offset":0.524,"color":"#222"},{"offset":0.524,"color":"rgba(0,0,0,0)"},{"offset":0.5593,"color":"rgba(0,0,0,0)"},{"offset":0.5593,"color":"#222"},{"offset":0.5657,"color":"#222"},{"offset":0.5657,"color":"rgba(0,0,0,0)"},{"offset":0.601,"color":"rgba(0,0,0,0)"},{"offset":0.601,"color":"#222"},{"offset":0.6074,"color":"#222"},{"offset":0.6074,"color":"rgba(0,0,0,0)"},{"offset":0.6426,"color":"rgba(0,0,0,0)"},{"offset":0.6426,"color":"#222"},{"offset":0.649,"color":"#222"},{"offset":0.649,"color":"rgba(0,0,0,0)"},{"offset":0.6843,"color":"rgba(0,0,0,0)"},{"offset":0.6843,"color":"#222"},{"offset":0.6907,"color":"#222"},{"offset":0.6907,"color":"rgba(0,0,0,0)"},{"offset":0.726,"color":"rgba(0,0,0,0)"},{"offset":0.726,"color":"#222"},{"offset":0.7324,"color":"#222"},{"offset":0.7324,"color":"rgba(0,0,0,0)"},{"offset":0.7676,"color":"rgba(0,0,0,0)"},{"offset":0.7676,"color":"#222"},{"offset":0.774,"color":"#222"},{"offset":0.774,"color":"rgba(0,0,0,0)"},{"offset":0.8093,"color":"rgba(0,0,0,0)"},{"offset":0.8093,"color":"#222"},{"offset":0.8157,"color":"#222"},{"offset":0.8157,"color":"rgba(0,0,0,0)"},{"offset":0.851,"color":"rgba(0,0,0,0)"},{"offset":0.851,"color":"#222"},{"offset":0.8574,"color":"#222"},{"offset":0.8574,"color":"rgba(0,0,0,0)"},{"offset":0.8926,"color":"rgba(0,0,0,0)"},{"offset":0.8926,"color":"#222"},{"offset":0.899,"color":"#222"},{"offset":0.899,"color":"rgba(0,0,0,0)"},{"offset":0.9343,"color":"rgba(0,0,0,0)"},{"offset":0.9343,"color":"#222"},{"offset":0.9407,"color":"#222"},{"offset":0.9407,"color":"rgba(0,0,0,0)"},{"offset":0.976,"color":"rgba(0,0,0,0)"},{"offset":0.976,"color":"#222"},{"offset":0.9824,"color":"#222"},{"offset":0.9824,"color":"rgba(0,0,0,0)"}]}},
     "encoding": {"x": {"field": "group", "type": "nominal"}, "y": {"field": "mean", "type": "quantitative"}}},
    {"data": {"name": "C"}, "transform": [{"filter": "datum.group === 'KO-T817'"}],
     "mark": {"type": "point", "shape": "M-1,-1.054L1,-1.054L1,-0.332L-1,-0.332Z", "size": 5476, "filled": true, "color": "white", "opacity": 1, "strokeWidth": 0},
     "encoding": {"x": {"field": "group", "type": "nominal"}, "y": {"datum": 0, "type": "quantitative"}}},
    {"data": {"name": "C"},
     "mark": {"type": "rule", "color": "black", "strokeWidth": 1.8},
     "encoding": {"x": {"field": "group", "type": "nominal"}, "y": {"field": "mean", "type": "quantitative"}, "y2": {"field": "upper"}}},
    {"data": {"name": "C"},
     "mark": {"type": "tick", "color": "black", "thickness": 1.8, "size": 12, "orient": "horizontal", "opacity": 1},
     "encoding": {"x": {"field": "group", "type": "nominal"}, "y": {"field": "upper", "type": "quantitative"}}},
    {"data": {"name": "C"},
     "mark": {"type": "text", "fontSize": 23, "baseline": "alphabetic", "dy": -18},
     "encoding": {"x": {"field": "group", "type": "nominal"}, "y": {"datum": 0, "type": "quantitative"}, "text": {"field": "n"}, "color": {"condition": {"test": "datum.group === 'KO-DW'", "value": "white"}, "value": "black"}}},
    {"data": {"values": [{"group": "Cont-T817", "label": "#", "y": 1946}, {"group": "KO-T817", "label": "#", "y": 1977}, {"group": "KO-DW", "label": "a", "y": 1162}]},
     "mark": {"type": "text", "baseline": "middle", "color": "black"},
     "encoding": {"x": {"field": "group", "type": "nominal"}, "y": {"field": "y", "type": "quantitative"}, "text": {"field": "label"}, "size": {"condition": {"test": "datum.label === '#'", "value": 16}, "value": 19}}},
    {"data": {"values": [{"group": "KO-DW", "label": "**", "y": 2410}]},
     "mark": {"type": "text", "fontSize": 22, "baseline": "middle", "color": "black"},
     "encoding": {"x": {"field": "group", "type": "nominal", "bandPosition": -0.25}, "y": {"field": "y", "type": "quantitative"}, "text": {"field": "label"}}},
    {"data": {"values": [{"g1": "Cont-DW", "g2": "Cont-T817", "y": 2100}, {"g1": "KO-DW", "g2": "KO-T817", "y": 2108}]},
     "mark": {"type": "rule", "color": "black", "strokeWidth": 2, "strokeCap": "square"},
     "encoding": {"x": {"field": "g1", "type": "nominal", "bandPosition": 0.5}, "x2": {"field": "g2", "bandPosition": 0.47}, "y": {"field": "y", "type": "quantitative"}}},
    {"data": {"values": [{"g1": "Cont-T817", "g2": "KO-T817", "y": 2306}]},
     "mark": {"type": "rule", "color": "black", "strokeWidth": 2, "strokeCap": "square"},
     "encoding": {"x": {"field": "g1", "type": "nominal", "bandPosition": -0.22}, "x2": {"field": "g2", "bandPosition": -0.22}, "y": {"field": "y", "type": "quantitative"}}},
    {"data": {"values": [{"g": "Cont-T817", "y": 2100, "y2": 2306}, {"g": "KO-T817", "y": 2108, "y2": 2306}]},
     "mark": {"type": "rule", "color": "black", "strokeWidth": 2, "strokeCap": "square"},
     "encoding": {"x": {"field": "g", "type": "nominal", "bandPosition": -0.22}, "y": {"field": "y", "type": "quantitative"}, "y2": {"field": "y2"}}}
   ]
  },
  {
   "title": {"text": "D. SC", "offset": -25},
   "width": 464, "height": 211,
   "layer": [
    {"data": {"name": "D"},
     "mark": {"type": "bar", "stroke": "black", "strokeWidth": 1.5, "opacity": 1},
     "encoding": {
      "x": {"field": "group", "type": "nominal", "scale": {"domain": ["Cont-DW", "Cont-T817", "KO-DW", "KO-T817"], "paddingInner": 0.2815, "paddingOuter": 0.102, "align": 0.705}, "axis": {"labels": true, "ticks": false, "tickSize": 0, "title": null, "domainWidth": 2.5, "labelAngle": 0, "labelFontSize": 21, "labelPadding": 10}},
      "y": {"field": "mean", "type": "quantitative", "scale": {"domain": [0, 20000], "nice": false}, "axis": {"values": [0, 5000, 10000, 15000, 20000], "format": "d", "title": "Density(cells /mm³)"}},
      "color": {"field": "group", "type": "nominal", "scale": {"domain": ["Cont-DW", "Cont-T817", "KO-DW", "KO-T817"], "range": ["#ffffff", "#c9cacc", "#000000", "#ffffff"]}, "legend": null}
     }},
    {"data": {"name": "D"}, "transform": [{"filter": "datum.group === 'KO-T817'"}],
     "mark": {"type": "bar", "opacity": 1, "strokeWidth": 0, "fill": {"gradient": "linear", "x1": 0, "y1": 0, "x2": 0.9558, "y2": 1.5248, "stops": [{"offset":0.0176,"color":"rgba(0,0,0,0)"},{"offset":0.0176,"color":"#222"},{"offset":0.024,"color":"#222"},{"offset":0.024,"color":"rgba(0,0,0,0)"},{"offset":0.0593,"color":"rgba(0,0,0,0)"},{"offset":0.0593,"color":"#222"},{"offset":0.0657,"color":"#222"},{"offset":0.0657,"color":"rgba(0,0,0,0)"},{"offset":0.101,"color":"rgba(0,0,0,0)"},{"offset":0.101,"color":"#222"},{"offset":0.1074,"color":"#222"},{"offset":0.1074,"color":"rgba(0,0,0,0)"},{"offset":0.1426,"color":"rgba(0,0,0,0)"},{"offset":0.1426,"color":"#222"},{"offset":0.149,"color":"#222"},{"offset":0.149,"color":"rgba(0,0,0,0)"},{"offset":0.1843,"color":"rgba(0,0,0,0)"},{"offset":0.1843,"color":"#222"},{"offset":0.1907,"color":"#222"},{"offset":0.1907,"color":"rgba(0,0,0,0)"},{"offset":0.226,"color":"rgba(0,0,0,0)"},{"offset":0.226,"color":"#222"},{"offset":0.2324,"color":"#222"},{"offset":0.2324,"color":"rgba(0,0,0,0)"},{"offset":0.2676,"color":"rgba(0,0,0,0)"},{"offset":0.2676,"color":"#222"},{"offset":0.274,"color":"#222"},{"offset":0.274,"color":"rgba(0,0,0,0)"},{"offset":0.3093,"color":"rgba(0,0,0,0)"},{"offset":0.3093,"color":"#222"},{"offset":0.3157,"color":"#222"},{"offset":0.3157,"color":"rgba(0,0,0,0)"},{"offset":0.351,"color":"rgba(0,0,0,0)"},{"offset":0.351,"color":"#222"},{"offset":0.3574,"color":"#222"},{"offset":0.3574,"color":"rgba(0,0,0,0)"},{"offset":0.3926,"color":"rgba(0,0,0,0)"},{"offset":0.3926,"color":"#222"},{"offset":0.399,"color":"#222"},{"offset":0.399,"color":"rgba(0,0,0,0)"},{"offset":0.4343,"color":"rgba(0,0,0,0)"},{"offset":0.4343,"color":"#222"},{"offset":0.4407,"color":"#222"},{"offset":0.4407,"color":"rgba(0,0,0,0)"},{"offset":0.476,"color":"rgba(0,0,0,0)"},{"offset":0.476,"color":"#222"},{"offset":0.4824,"color":"#222"},{"offset":0.4824,"color":"rgba(0,0,0,0)"},{"offset":0.5176,"color":"rgba(0,0,0,0)"},{"offset":0.5176,"color":"#222"},{"offset":0.524,"color":"#222"},{"offset":0.524,"color":"rgba(0,0,0,0)"},{"offset":0.5593,"color":"rgba(0,0,0,0)"},{"offset":0.5593,"color":"#222"},{"offset":0.5657,"color":"#222"},{"offset":0.5657,"color":"rgba(0,0,0,0)"},{"offset":0.601,"color":"rgba(0,0,0,0)"},{"offset":0.601,"color":"#222"},{"offset":0.6074,"color":"#222"},{"offset":0.6074,"color":"rgba(0,0,0,0)"},{"offset":0.6426,"color":"rgba(0,0,0,0)"},{"offset":0.6426,"color":"#222"},{"offset":0.649,"color":"#222"},{"offset":0.649,"color":"rgba(0,0,0,0)"},{"offset":0.6843,"color":"rgba(0,0,0,0)"},{"offset":0.6843,"color":"#222"},{"offset":0.6907,"color":"#222"},{"offset":0.6907,"color":"rgba(0,0,0,0)"},{"offset":0.726,"color":"rgba(0,0,0,0)"},{"offset":0.726,"color":"#222"},{"offset":0.7324,"color":"#222"},{"offset":0.7324,"color":"rgba(0,0,0,0)"},{"offset":0.7676,"color":"rgba(0,0,0,0)"},{"offset":0.7676,"color":"#222"},{"offset":0.774,"color":"#222"},{"offset":0.774,"color":"rgba(0,0,0,0)"},{"offset":0.8093,"color":"rgba(0,0,0,0)"},{"offset":0.8093,"color":"#222"},{"offset":0.8157,"color":"#222"},{"offset":0.8157,"color":"rgba(0,0,0,0)"},{"offset":0.851,"color":"rgba(0,0,0,0)"},{"offset":0.851,"color":"#222"},{"offset":0.8574,"color":"#222"},{"offset":0.8574,"color":"rgba(0,0,0,0)"},{"offset":0.8926,"color":"rgba(0,0,0,0)"},{"offset":0.8926,"color":"#222"},{"offset":0.899,"color":"#222"},{"offset":0.899,"color":"rgba(0,0,0,0)"},{"offset":0.9343,"color":"rgba(0,0,0,0)"},{"offset":0.9343,"color":"#222"},{"offset":0.9407,"color":"#222"},{"offset":0.9407,"color":"rgba(0,0,0,0)"},{"offset":0.976,"color":"rgba(0,0,0,0)"},{"offset":0.976,"color":"#222"},{"offset":0.9824,"color":"#222"},{"offset":0.9824,"color":"rgba(0,0,0,0)"}]}},
     "encoding": {"x": {"field": "group", "type": "nominal"}, "y": {"field": "mean", "type": "quantitative"}}},
    {"data": {"name": "D"}, "transform": [{"filter": "datum.group === 'KO-T817'"}],
     "mark": {"type": "bar", "opacity": 1, "stroke": "black", "strokeWidth": 1.5, "fill": {"gradient": "linear", "x1": 0, "y1": 1, "x2": 0.9558, "y2": -0.5248, "stops": [{"offset":0.0176,"color":"rgba(0,0,0,0)"},{"offset":0.0176,"color":"#222"},{"offset":0.024,"color":"#222"},{"offset":0.024,"color":"rgba(0,0,0,0)"},{"offset":0.0593,"color":"rgba(0,0,0,0)"},{"offset":0.0593,"color":"#222"},{"offset":0.0657,"color":"#222"},{"offset":0.0657,"color":"rgba(0,0,0,0)"},{"offset":0.101,"color":"rgba(0,0,0,0)"},{"offset":0.101,"color":"#222"},{"offset":0.1074,"color":"#222"},{"offset":0.1074,"color":"rgba(0,0,0,0)"},{"offset":0.1426,"color":"rgba(0,0,0,0)"},{"offset":0.1426,"color":"#222"},{"offset":0.149,"color":"#222"},{"offset":0.149,"color":"rgba(0,0,0,0)"},{"offset":0.1843,"color":"rgba(0,0,0,0)"},{"offset":0.1843,"color":"#222"},{"offset":0.1907,"color":"#222"},{"offset":0.1907,"color":"rgba(0,0,0,0)"},{"offset":0.226,"color":"rgba(0,0,0,0)"},{"offset":0.226,"color":"#222"},{"offset":0.2324,"color":"#222"},{"offset":0.2324,"color":"rgba(0,0,0,0)"},{"offset":0.2676,"color":"rgba(0,0,0,0)"},{"offset":0.2676,"color":"#222"},{"offset":0.274,"color":"#222"},{"offset":0.274,"color":"rgba(0,0,0,0)"},{"offset":0.3093,"color":"rgba(0,0,0,0)"},{"offset":0.3093,"color":"#222"},{"offset":0.3157,"color":"#222"},{"offset":0.3157,"color":"rgba(0,0,0,0)"},{"offset":0.351,"color":"rgba(0,0,0,0)"},{"offset":0.351,"color":"#222"},{"offset":0.3574,"color":"#222"},{"offset":0.3574,"color":"rgba(0,0,0,0)"},{"offset":0.3926,"color":"rgba(0,0,0,0)"},{"offset":0.3926,"color":"#222"},{"offset":0.399,"color":"#222"},{"offset":0.399,"color":"rgba(0,0,0,0)"},{"offset":0.4343,"color":"rgba(0,0,0,0)"},{"offset":0.4343,"color":"#222"},{"offset":0.4407,"color":"#222"},{"offset":0.4407,"color":"rgba(0,0,0,0)"},{"offset":0.476,"color":"rgba(0,0,0,0)"},{"offset":0.476,"color":"#222"},{"offset":0.4824,"color":"#222"},{"offset":0.4824,"color":"rgba(0,0,0,0)"},{"offset":0.5176,"color":"rgba(0,0,0,0)"},{"offset":0.5176,"color":"#222"},{"offset":0.524,"color":"#222"},{"offset":0.524,"color":"rgba(0,0,0,0)"},{"offset":0.5593,"color":"rgba(0,0,0,0)"},{"offset":0.5593,"color":"#222"},{"offset":0.5657,"color":"#222"},{"offset":0.5657,"color":"rgba(0,0,0,0)"},{"offset":0.601,"color":"rgba(0,0,0,0)"},{"offset":0.601,"color":"#222"},{"offset":0.6074,"color":"#222"},{"offset":0.6074,"color":"rgba(0,0,0,0)"},{"offset":0.6426,"color":"rgba(0,0,0,0)"},{"offset":0.6426,"color":"#222"},{"offset":0.649,"color":"#222"},{"offset":0.649,"color":"rgba(0,0,0,0)"},{"offset":0.6843,"color":"rgba(0,0,0,0)"},{"offset":0.6843,"color":"#222"},{"offset":0.6907,"color":"#222"},{"offset":0.6907,"color":"rgba(0,0,0,0)"},{"offset":0.726,"color":"rgba(0,0,0,0)"},{"offset":0.726,"color":"#222"},{"offset":0.7324,"color":"#222"},{"offset":0.7324,"color":"rgba(0,0,0,0)"},{"offset":0.7676,"color":"rgba(0,0,0,0)"},{"offset":0.7676,"color":"#222"},{"offset":0.774,"color":"#222"},{"offset":0.774,"color":"rgba(0,0,0,0)"},{"offset":0.8093,"color":"rgba(0,0,0,0)"},{"offset":0.8093,"color":"#222"},{"offset":0.8157,"color":"#222"},{"offset":0.8157,"color":"rgba(0,0,0,0)"},{"offset":0.851,"color":"rgba(0,0,0,0)"},{"offset":0.851,"color":"#222"},{"offset":0.8574,"color":"#222"},{"offset":0.8574,"color":"rgba(0,0,0,0)"},{"offset":0.8926,"color":"rgba(0,0,0,0)"},{"offset":0.8926,"color":"#222"},{"offset":0.899,"color":"#222"},{"offset":0.899,"color":"rgba(0,0,0,0)"},{"offset":0.9343,"color":"rgba(0,0,0,0)"},{"offset":0.9343,"color":"#222"},{"offset":0.9407,"color":"#222"},{"offset":0.9407,"color":"rgba(0,0,0,0)"},{"offset":0.976,"color":"rgba(0,0,0,0)"},{"offset":0.976,"color":"#222"},{"offset":0.9824,"color":"#222"},{"offset":0.9824,"color":"rgba(0,0,0,0)"}]}},
     "encoding": {"x": {"field": "group", "type": "nominal"}, "y": {"field": "mean", "type": "quantitative"}}},
    {"data": {"name": "D"}, "transform": [{"filter": "datum.group === 'KO-T817'"}],
     "mark": {"type": "point", "shape": "M-1,-1.054L1,-1.054L1,-0.332L-1,-0.332Z", "size": 5476, "filled": true, "color": "white", "opacity": 1, "strokeWidth": 0},
     "encoding": {"x": {"field": "group", "type": "nominal"}, "y": {"datum": 0, "type": "quantitative"}}},
    {"data": {"name": "D"},
     "mark": {"type": "rule", "color": "black", "strokeWidth": 1.8},
     "encoding": {"x": {"field": "group", "type": "nominal"}, "y": {"field": "mean", "type": "quantitative"}, "y2": {"field": "upper"}}},
    {"data": {"name": "D"},
     "mark": {"type": "tick", "color": "black", "thickness": 1.8, "size": 12, "orient": "horizontal", "opacity": 1},
     "encoding": {"x": {"field": "group", "type": "nominal"}, "y": {"field": "upper", "type": "quantitative"}}},
    {"data": {"name": "D"},
     "mark": {"type": "text", "fontSize": 23, "baseline": "alphabetic", "dy": -19},
     "encoding": {"x": {"field": "group", "type": "nominal"}, "y": {"datum": 0, "type": "quantitative"}, "text": {"field": "n"}, "color": {"condition": {"test": "datum.group === 'KO-DW'", "value": "white"}, "value": "black"}}},
    {"data": {"values": [{"group": "KO-DW", "label": "b", "y": 12000}]},
     "mark": {"type": "text", "fontSize": 19, "baseline": "middle", "color": "black"},
     "encoding": {"x": {"field": "group", "type": "nominal"}, "y": {"field": "y", "type": "quantitative"}, "text": {"field": "label"}}},
    {"data": {"values": [{"group": "KO-DW", "label": "**", "y": 23540}]},
     "mark": {"type": "text", "fontSize": 22, "baseline": "middle", "color": "black"},
     "encoding": {"x": {"field": "group", "type": "nominal", "bandPosition": -0.25}, "y": {"field": "y", "type": "quantitative"}, "text": {"field": "label"}}},
    {"data": {"values": [{"g1": "Cont-DW", "g2": "Cont-T817", "y": 20310}, {"g1": "KO-DW", "g2": "KO-T817", "y": 17150}]},
     "mark": {"type": "rule", "color": "black", "strokeWidth": 2, "strokeCap": "square"},
     "encoding": {"x": {"field": "g1", "type": "nominal", "bandPosition": 0.5}, "x2": {"field": "g2", "bandPosition": 0.47}, "y": {"field": "y", "type": "quantitative"}}},
    {"data": {"values": [{"g1": "Cont-T817", "g2": "KO-T817", "y": 22530}]},
     "mark": {"type": "rule", "color": "black", "strokeWidth": 2, "strokeCap": "square"},
     "encoding": {"x": {"field": "g1", "type": "nominal", "bandPosition": -0.22}, "x2": {"field": "g2", "bandPosition": -0.22}, "y": {"field": "y", "type": "quantitative"}}},
    {"data": {"values": [{"g": "Cont-T817", "y": 20310, "y2": 22530}, {"g": "KO-T817", "y": 17150, "y2": 22530}]},
     "mark": {"type": "rule", "color": "black", "strokeWidth": 2, "strokeCap": "square"},
     "encoding": {"x": {"field": "g", "type": "nominal", "bandPosition": -0.22}, "y": {"field": "y", "type": "quantitative"}, "y2": {"field": "y2"}}}
   ]
  }
 ]
}
